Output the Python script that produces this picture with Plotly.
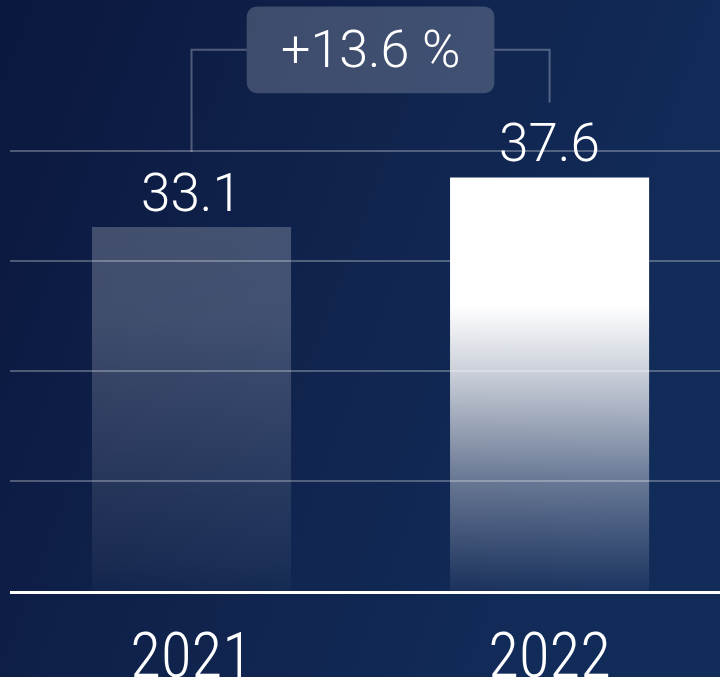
import base64
import plotly.graph_objects as go

# ---------------- data ----------------
years = ["2021", "2022"]
values = [33.1, 37.6]
grid_values = [10, 20, 30, 40]
y_max = 53.73

# ---------------- styles ----------------
bar_width = 0.556
bar_fills = [
    [[0.0, "rgba(255,255,255,0.02)"], [0.08, "rgba(255,255,255,0.05)"],
     [0.30, "rgba(255,255,255,0.10)"], [0.60, "rgba(255,255,255,0.17)"],
     [0.75, "rgba(255,255,255,0.21)"], [1.0, "rgba(255,255,255,0.22)"]],
    [[0.0, "rgba(255,255,255,0.04)"], [0.27, "rgba(255,255,255,0.37)"],
     [0.53, "rgba(255,255,255,0.78)"], [0.69, "rgba(255,255,255,1)"],
     [1.0, "rgba(255,255,255,1)"]],
]
num_font = "Roboto, 'Open Sans', sans-serif"
year_font = "'Roboto Condensed', 'Liberation Sans Narrow', 'DejaVu Sans Condensed', Roboto, sans-serif"

fig = go.Figure()

xs = list(range(len(years)))
for i, (x, v) in enumerate(zip(xs, values)):
    fig.add_trace(go.Scatter(
        x=[x - bar_width / 2, x + bar_width / 2, x + bar_width / 2, x - bar_width / 2, x - bar_width / 2],
        y=[0, 0, v, v, 0],
        mode="lines", line=dict(width=0), fill="toself",
        fillgradient=dict(type="vertical", colorscale=bar_fills[i]),
        hoverinfo="skip", showlegend=False,
    ))
    fig.add_annotation(
        x=x, y=v, text=f"{v:.1f}", showarrow=False, yanchor="bottom", yshift=1,
        font=dict(family=num_font, size=53, color="white", weight=300),
    )

# change bracket
change = (values[1] / values[0] - 1) * 100
label_gap = 6.8
top_y = 49.2
box_cx = (xs[0] + xs[1]) / 2
box_hw, box_hh = 0.346, 3.95
rx, ry = 0.0335, 1.09
bl, br = box_cx - box_hw, box_cx + box_hw
bb, bt = top_y - box_hh, top_y + box_hh
box_path = (f"M {bl+rx},{bb} L {br-rx},{bb} Q {br},{bb} {br},{bb+ry} L {br},{bt-ry} "
            f"Q {br},{bt} {br-rx},{bt} L {bl+rx},{bt} Q {bl},{bt} {bl},{bt-ry} "
            f"L {bl},{bb+ry} Q {bl},{bb} {bl+rx},{bb} Z")
line_style = dict(color="rgba(255,255,255,0.28)", width=2)
fig.add_shape(type="path", path=f"M {xs[0]},{values[0]+label_gap} L {xs[0]},{top_y} L {bl},{top_y}",
              line=line_style)
fig.add_shape(type="path", path=f"M {br},{top_y} L {xs[1]},{top_y} L {xs[1]},{values[1]+label_gap}",
              line=line_style)
fig.add_shape(type="path", path=box_path, fillcolor="rgba(255,255,255,0.2)", line=dict(width=0))
fig.add_annotation(
    x=box_cx, y=top_y, text=f"+{change:.1f} %", showarrow=False, yanchor="middle",
    font=dict(family=num_font, size=52, color="white", weight=300),
)

# background gradient image
svg = ('<svg xmlns="http://www.w3.org/2000/svg" width="720" height="677" viewBox="0 0 720 677" '
       'preserveAspectRatio="none"><defs><linearGradient id="g" x1="0" y1="0" x2="1" y2="0.35">'
       '<stop offset="0" stop-color="#0b173e"/><stop offset="0.55" stop-color="#10244e"/>'
       '<stop offset="1" stop-color="#122c5a"/></linearGradient></defs>'
       '<rect width="720" height="677" fill="url(#g)"/></svg>')
src = "data:image/svg+xml;base64," + base64.b64encode(svg.encode()).decode()

W, H = 720, 677
ml, mr, mt, mb = 10, 0, 0, 86
pw, ph = W - ml - mr, H - mt - mb
fig.add_layout_image(dict(
    source=src, xref="paper", yref="paper", x=-ml / pw, y=1 + mt / ph,
    sizex=W / pw, sizey=H / ph, sizing="stretch", layer="below", xanchor="left", yanchor="top",
))

fig.update_layout(
    width=W, height=H, margin=dict(l=ml, r=mr, t=mt, b=mb, autoexpand=False),
    paper_bgcolor="#0f2149", plot_bgcolor="rgba(0,0,0,0)",
    showlegend=False,
    xaxis=dict(range=[-0.507, 1.476], tickvals=xs, ticktext=years, showgrid=False, zeroline=False,
               showline=True, linecolor="white", linewidth=3, ticks="", automargin=False,
               ticklabelstandoff=7,
               tickfont=dict(family=year_font, size=63, color="white", weight=300), fixedrange=True),
    yaxis=dict(range=[0, y_max], tickvals=grid_values, showticklabels=False, showgrid=True,
               gridcolor="rgba(255,255,255,0.28)", gridwidth=2, zeroline=False, fixedrange=True,
               automargin=False),
)

fig.write_html("out.html")
